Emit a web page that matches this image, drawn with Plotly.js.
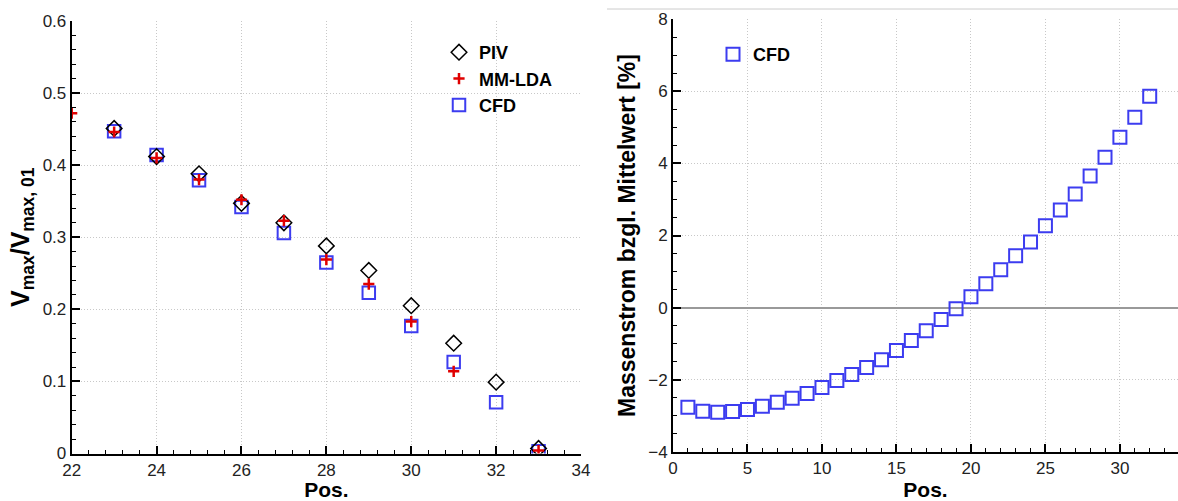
<!DOCTYPE html>
<html><head><meta charset="utf-8">
<script src="https://cdn.plot.ly/plotly-3.0.1.min.js"></script>
<style>html,body{margin:0;padding:0;background:#fff;}#chart{width:1178px;height:501px;}</style>
</head><body><div id="chart"></div>
<script>
// Left chart data
const pivPos = [23, 24, 25, 26, 27, 28, 29, 30, 31, 32, 33];
const pivVal = [0.451, 0.412, 0.388, 0.347, 0.320, 0.288, 0.254, 0.205, 0.153, 0.099, 0.007];
const ldaPos = [22, 23, 24, 25, 26, 27, 28, 29, 30, 31, 33];
const ldaVal = [0.472, 0.446, 0.410, 0.380, 0.352, 0.323, 0.269, 0.235, 0.183, 0.114, 0.004];
const cfdPos = [23, 24, 25, 26, 27, 28, 29, 30, 31, 32, 33];
const cfdVal = [0.447, 0.414, 0.379, 0.342, 0.306, 0.265, 0.223, 0.177, 0.127, 0.071, 0.003];
// Right chart data
const massPos = [1,2,3,4,5,6,7,8,9,10,11,12,13,14,15,16,17,18,19,20,21,22,23,24,25,26,27,28,29,30,31,32];
const massVal = [-2.76,-2.87,-2.90,-2.88,-2.82,-2.73,-2.62,-2.51,-2.38,-2.21,-2.02,-1.85,-1.66,-1.44,-1.19,-0.91,-0.64,-0.33,-0.03,0.30,0.66,1.05,1.44,1.82,2.27,2.71,3.15,3.65,4.17,4.72,5.28,5.86];

const blue = 'rgb(60,60,240)';
const font = 'Liberation Sans, Arial, sans-serif';

const traces = [
  {x: cfdPos, y: cfdVal, name: 'CFD', mode: 'markers', xaxis: 'x', yaxis: 'y', legend: 'legend', legendrank: 3,
   marker: {symbol: 'square-open', size: 12.5, color: blue, line: {width: 2, color: blue}}},
  {x: pivPos, y: pivVal, name: 'PIV', mode: 'markers', xaxis: 'x', yaxis: 'y', legend: 'legend', legendrank: 1,
   marker: {symbol: 'diamond-open', size: 12, color: '#000', line: {width: 1.5, color: '#000'}}},
  {x: ldaPos, y: ldaVal, name: 'MM-LDA', mode: 'markers', xaxis: 'x', yaxis: 'y', legend: 'legend', legendrank: 2,
   marker: {symbol: 'cross-thin', size: 8, color: '#e00000', line: {width: 2.5, color: '#e00000'}}},
  {x: massPos, y: massVal, name: 'CFD', mode: 'markers', xaxis: 'x2', yaxis: 'y2', legend: 'legend2',
   marker: {symbol: 'square-open', size: 13, color: blue, line: {width: 2, color: blue}}}
];

const axBase = {
  showline: true, linecolor: '#000', linewidth: 2, mirror: false,
  ticks: 'inside', ticklen: 8, tickwidth: 2, tickcolor: '#000',
  showgrid: true, gridcolor: '#c8c8c8', griddash: '1px,2px', gridwidth: 1,
  tickfont: {family: font, size: 17, color: '#222'},
  zeroline: false, fixedrange: true
};

const layout = {
  width: 1178, height: 501,
  margin: {l: 0, r: 0, t: 0, b: 0},
  paper_bgcolor: '#fff', plot_bgcolor: '#fff',
  font: {family: font},
  xaxis: Object.assign({}, axBase, {
    domain: [71.7/1178, 581/1178], range: [22, 34], dtick: 2, tick0: 22, anchor: 'y',
    minor: {dtick: 0.4, ticks: 'inside', ticklen: 4, tickwidth: 1, tickcolor: '#000', showgrid: false},
    title: {text: '<b>Pos.</b>', font: {family: font, size: 21, color: '#000'}, standoff: 8}
  }),
  yaxis: Object.assign({}, axBase, {
    domain: [(501-453.5)/501, (501-21)/501], range: [0, 0.6], dtick: 0.1, anchor: 'x',
    tickformat: '.1~f',
    minor: {dtick: 0.02, ticks: 'inside', ticklen: 4, tickwidth: 1, tickcolor: '#000', showgrid: false},
    title: {text: '<b>V<sub>max</sub>/V<sub>max, 01</sub></b>', font: {family: font, size: 25, color: '#000'}, standoff: 6}
  }),
  xaxis2: Object.assign({}, axBase, {
    domain: [673/1178, 1], range: [0, 33.9], dtick: 5, tick0: 0, anchor: 'y2',
    minor: {dtick: 1, ticks: 'inside', ticklen: 4, tickwidth: 1, tickcolor: '#000', showgrid: false},
    title: {text: '<b>Pos.</b>', font: {family: font, size: 21, color: '#000'}, standoff: 8}
  }),
  yaxis2: Object.assign({}, axBase, {
    domain: [(501-452)/501, (501-19)/501], range: [-4, 8], dtick: 2, anchor: 'x2',
    zeroline: true, zerolinecolor: '#999', zerolinewidth: 2,
    minor: {dtick: 0.5, ticks: 'inside', ticklen: 4, tickwidth: 1, tickcolor: '#000', showgrid: false},
    title: {text: '<b>Massenstrom bzgl. Mittelwert [%]</b>', font: {family: font, size: 23, color: '#000'}, standoff: 6}
  }),
  legend: {x: 439/1178, y: (501-34)/501, xanchor: 'left', yanchor: 'top', bgcolor: 'rgba(0,0,0,0)',
    font: {family: font, size: 18, color: '#000', weight: 'bold'}, tracegroupgap: 0, itemwidth: 30},
  legend2: {x: 713/1178, y: (501-36)/501, xanchor: 'left', yanchor: 'top', bgcolor: 'rgba(0,0,0,0)',
    font: {family: font, size: 18, color: '#000', weight: 'bold'}, itemwidth: 30},
  showlegend: true,
  shapes: [
    {type: 'line', xref: 'paper', yref: 'paper', x0: 607/1178, x1: 1, y0: (501-9)/501, y1: (501-9)/501,
     line: {color: '#cccccc', width: 1}}
  ]
};

Plotly.newPlot('chart', traces, layout, {displayModeBar: false, staticPlot: true});
</script>
</body></html>
